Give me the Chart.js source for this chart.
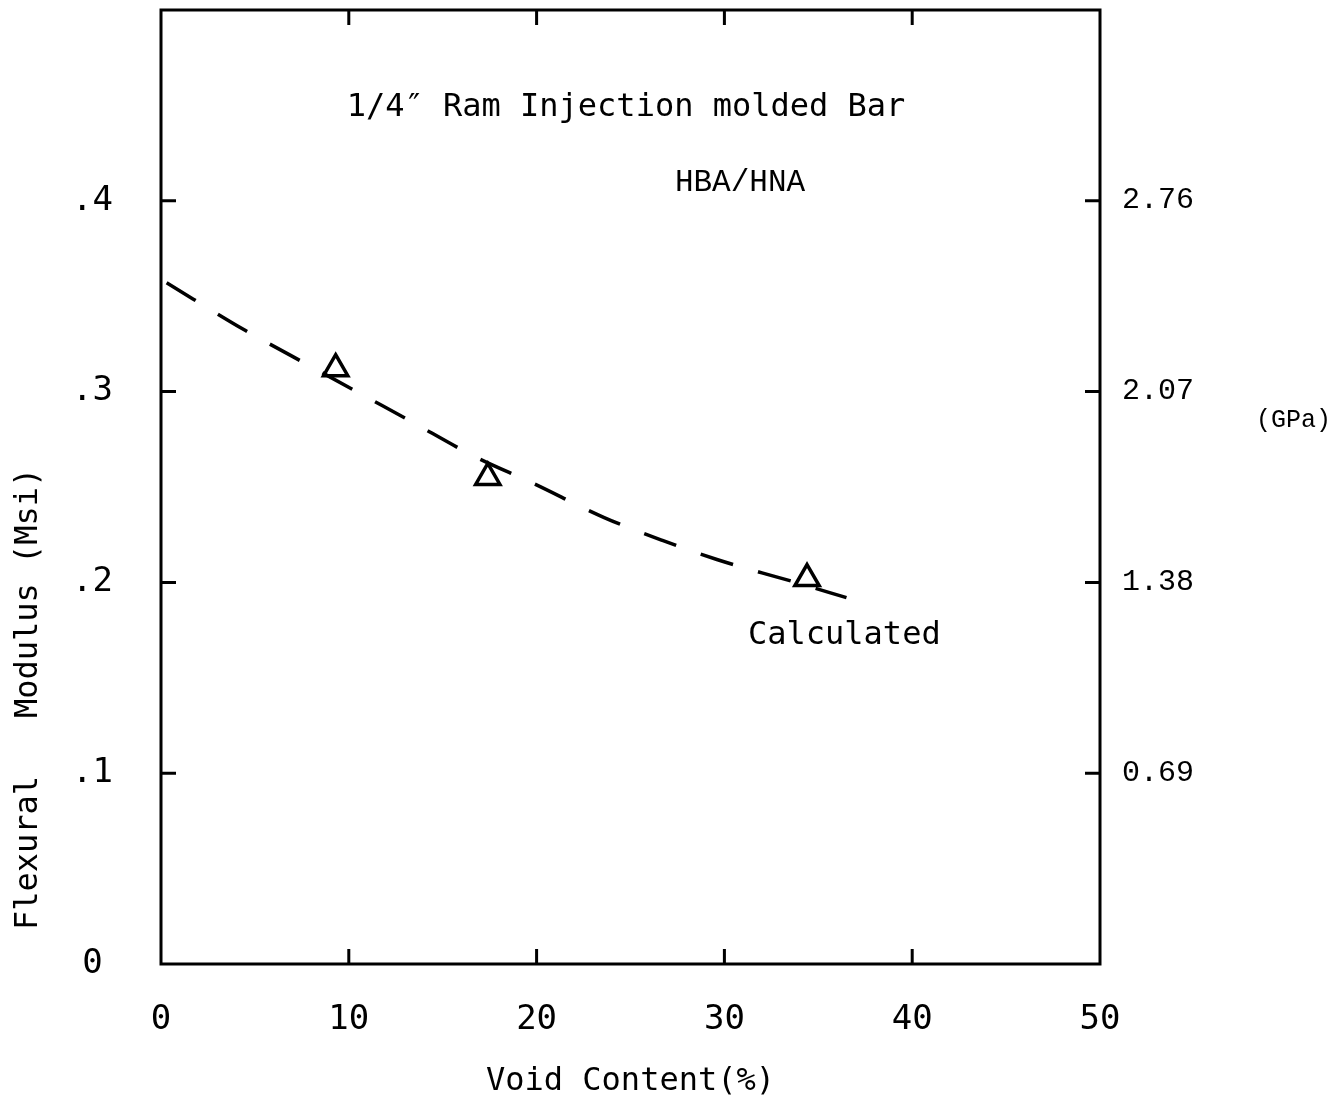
<!DOCTYPE html>
<html>
<head>
<meta charset="utf-8">
<script src="https://cdn.jsdelivr.net/npm/chart.js@4.4.1/dist/chart.umd.min.js"></script>
<style>
  body { margin: 0; background: #fff; }
  canvas { display: block; }
</style>
</head>
<body>
<canvas id="voidChart" width="1333" height="1103"></canvas>
<script>
// measured points (triangles)
let measuredX = [9.3, 17.4, 34.4];
let measuredY = [0.312, 0.255, 0.202];

// calculated curve
let calcX = [0.3, 4.5, 6.9, 10.6, 13.2, 16.7, 19.8, 23.6, 26.7, 29.6, 32.0, 33.8, 36.5];
let calcY = [0.357, 0.332, 0.319, 0.299, 0.285, 0.266, 0.252, 0.234, 0.222, 0.212, 0.205, 0.200, 0.192];

// axis ticks
let xTicks = [0, 10, 20, 30, 40, 50];
let msiTicks = [0, 0.1, 0.2, 0.3, 0.4];
let msiLabels = ["0", ".1", ".2", ".3", ".4"];
let gpaTicks = [0.69, 1.38, 2.07, 2.76];
let gpaLabels = ["0.69", "1.38", "2.07", "2.76"];
let yMax = 0.5;
let gpaPerMsi = 6.895;

let ocr = "'DejaVu Sans Mono', monospace";
let courier = "'Liberation Mono', 'Courier New', monospace";

function toPoints(xs, ys) {
    return xs.map(function(x, i) { return { x: x, y: ys[i] }; });
}

function noPad(s) {
    s.paddingTop = 0; s.paddingBottom = 0;
    s.paddingLeft = 0; s.paddingRight = 0;
}

// frame with inward tick marks, plus the free text
let framePlugin = {
    id: "frame",
    afterDraw: function(chart) {
        let ctx = chart.ctx;
        let a = chart.chartArea;
        let xs = chart.scales.x;
        let ys = chart.scales.y;
        ctx.save();
        ctx.strokeStyle = "#000";
        ctx.lineWidth = 3;
        ctx.strokeRect(a.left, a.top, a.right - a.left, a.bottom - a.top);
        ctx.beginPath();
        xTicks.slice(1, -1).forEach(function(v) {
            let px = xs.getPixelForValue(v);
            ctx.moveTo(px, a.bottom); ctx.lineTo(px, a.bottom - 15);
            ctx.moveTo(px, a.top); ctx.lineTo(px, a.top + 15);
        });
        msiTicks.slice(1).forEach(function(v) {
            let py = ys.getPixelForValue(v);
            ctx.moveTo(a.left, py); ctx.lineTo(a.left + 15, py);
            ctx.moveTo(a.right, py); ctx.lineTo(a.right - 15, py);
        });
        ctx.stroke();

        ctx.fillStyle = "#000";
        ctx.textBaseline = "middle";
        ctx.font = "32px " + ocr;
        ctx.textAlign = "center";
        ctx.fillText("1/4\u2033 Ram Injection molded Bar", 626, 108);
        ctx.textAlign = "left";
        ctx.fillText("Calculated", 748, 636);
        ctx.font = "31px " + courier;
        ctx.textAlign = "center";
        ctx.fillText("HBA/HNA", 740, 183);
        ctx.font = "25px " + courier;
        ctx.textAlign = "left";
        ctx.fillText("(GPa)", 1256, 420);

        // left axis title, reading upwards
        ctx.save();
        ctx.translate(29, 930);
        ctx.rotate(-Math.PI / 2);
        ctx.font = "32px " + ocr;
        ctx.textAlign = "left";
        ctx.fillText("Flexural   Modulus (Msi)", 0, 0);
        ctx.restore();
        ctx.restore();
    }
};

let ctx1 = document.getElementById("voidChart").getContext("2d");
let voidChart = new Chart(ctx1, {
    type: "scatter",
    data: {
        datasets: [{
            label: "Measured",
            data: toPoints(measuredX, measuredY),
            showLine: false,
            pointStyle: "triangle",
            pointRadius: 14,
            borderWidth: 3.5,
            borderColor: "#000",
            backgroundColor: "rgba(0,0,0,0)"
        }, {
            label: "Calculated",
            data: toPoints(calcX, calcY),
            showLine: true,
            pointRadius: 0,
            borderColor: "#000",
            borderWidth: 3.5,
            borderDash: [34, 26],
            cubicInterpolationMode: "monotone",
            fill: false
        }]
    },
    options: {
        responsive: false,
        maintainAspectRatio: false,
        animation: false,
        devicePixelRatio: 1,
        layout: { autoPadding: false, padding: { top: 10, left: 0, right: 0, bottom: 0 } },
        plugins: {
            legend: { display: false },
            tooltip: { enabled: false }
        },
        scales: {
            x: {
                type: "linear",
                min: 0,
                max: 50,
                afterBuildTicks: function(s) { s.ticks = xTicks.map(function(v) { return { value: v }; }); },
                afterFit: function(s) { s.height = 139; noPad(s); },
                grid: { display: false, drawTicks: false },
                border: { display: false },
                ticks: { color: "#000", font: { family: ocr, size: 34 }, padding: 36, maxRotation: 0 },
                title: {
                    display: true,
                    text: "Void Content(%)",
                    color: "#000",
                    font: { family: ocr, size: 32 },
                    padding: { top: 0, bottom: 2 }
                }
            },
            y: {
                type: "linear",
                position: "left",
                min: 0,
                max: yMax,
                afterBuildTicks: function(s) { s.ticks = msiTicks.map(function(v) { return { value: v }; }); },
                afterFit: function(s) { s.width = 161; noPad(s); },
                grid: { display: false, drawTicks: false },
                border: { display: false },
                ticks: {
                    color: "#000",
                    font: { family: ocr, size: 34 },
                    padding: 48,
                    crossAlign: "center",
                    callback: function(v, i) { return msiLabels[i]; }
                }
            },
            y2: {
                type: "linear",
                position: "right",
                min: 0,
                max: yMax * gpaPerMsi,
                afterBuildTicks: function(s) { s.ticks = gpaTicks.map(function(v) { return { value: v }; }); },
                afterFit: function(s) { s.width = 233; noPad(s); },
                grid: { display: false, drawTicks: false },
                border: { display: false },
                ticks: {
                    color: "#000",
                    font: { family: courier, size: 30 },
                    padding: 22,
                    callback: function(v, i) { return gpaLabels[i]; }
                }
            }
        }
    },
    plugins: [framePlugin]
});
</script>
</body>
</html>
